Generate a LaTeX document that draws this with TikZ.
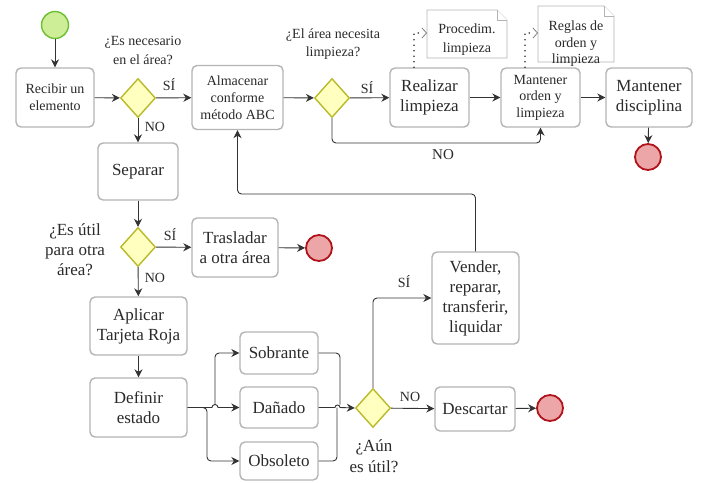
\documentclass[tikz,border=0pt]{standalone}
\usepackage{fontspec}
\setmainfont{Liberation Serif}
\usetikzlibrary{shapes.geometric,arrows.meta}
\definecolor{boxgray}{HTML}{B4B4B4}
\definecolor{txt}{HTML}{2A2A2A}
\definecolor{linec}{HTML}{333333}
\definecolor{dfill}{HTML}{FFFFC0}
\definecolor{dline}{HTML}{B9B92A}
\definecolor{sfill}{HTML}{CDEE96}
\definecolor{sline}{HTML}{6DBE35}
\definecolor{efill}{HTML}{EDA6A8}
\definecolor{eline}{HTML}{B0141A}
\tikzset{
  box/.style={draw=boxgray, line width=1.4pt, rounded corners=5pt, fill=white, align=center, text=txt, inner sep=1pt},
  fa/.style={font=\fontsize{14}{17}\selectfont},
  fb/.style={font=\fontsize{17}{20}\selectfont},
  dia/.style={shape=diamond, draw=dline, fill=dfill, line width=1.4pt, minimum width=35pt, minimum height=39pt, inner sep=0pt},
  startc/.style={circle, draw=sline, fill=sfill, line width=1.4pt, minimum size=27pt, inner sep=0pt},
  endc/.style={circle, draw=eline, fill=efill, line width=1.8pt, minimum size=26pt, inner sep=0pt},
  conn/.style={draw=linec, line width=0.9pt, rounded corners=4pt, -{Stealth[length=8pt,width=8pt]}},
  plain/.style={draw=linec, line width=0.9pt, rounded corners=4pt},
  lbl/.style={text=txt, align=center, inner sep=0pt},
  notebox/.style={draw=boxgray, line width=0.8pt, fill=white},
  dots/.style={draw=linec, line width=1.8pt, dash pattern=on 0pt off 5.5pt, line cap=round},
  barb/.style={draw=gray, line width=0.8pt}
}
\begin{document}
\begin{tikzpicture}[x=1pt,y=-1pt]
\useasboundingbox (0,0) rectangle (701,482);
% notes
\draw[notebox] (427,10) -- (497,10) -- (507,20) -- (507,58) -- (427,58) -- cycle;
\draw[notebox] (497,10) -- (497,20) -- (507,20);
\node[lbl, font=\fontsize{14}{19}\selectfont] (procnote) at (467,40) {Procedim.\\limpieza};
\draw[notebox] (538,6) -- (604,6) -- (614,16) -- (614,62) -- (538,62) -- cycle;
\draw[notebox] (604,6) -- (604,16) -- (614,16);
\node[lbl, font=\fontsize{14}{16.5}\selectfont] (reglnote) at (576,44) {Reglas de\\orden y\\limpieza};
% start / end
\node[startc] (start) at (55,25) {};
\node[endc] (end1) at (648,157) {};
\node[endc] (end2) at (319,248) {};
\node[endc] (end3) at (550,408) {};
% boxes
\node[box, fa, minimum width=78pt, minimum height=59pt] (recibir) at (55,97.5) {Recibir un\\elemento};
\node[box, fa, minimum width=91pt, minimum height=64pt] (almacenar) at (237.5,97.5) {Almacenar\\conforme\\método ABC};
\node[box, fb, minimum width=79pt, minimum height=59pt] (realizar) at (429.5,97.5) {Realizar\\limpieza};
\node[box, font=\fontsize{14}{16.5}\selectfont, minimum width=79pt, minimum height=59pt] (mantorden) at (540.5,97.5) {Mantener\\orden y\\limpieza};
\node[box, fb, minimum width=86pt, minimum height=59pt] (disciplina) at (649,97.5) {Mantener\\disciplina};
\node[box, fb, minimum width=80pt, minimum height=57pt] (separar) at (138,171.5) {Separar};
\node[box, fb, minimum width=86pt, minimum height=59pt] (trasladar) at (235,247.5) {Trasladar\\a otra área};
\node[box, fb, minimum width=97pt, minimum height=58pt] (aplicar) at (138.5,326) {Aplicar\\Tarjeta Roja};
\node[box, fb, minimum width=97pt, minimum height=59pt] (definir) at (138.5,407.5) {Definir\\estado};
\node[box, fb, minimum width=78pt, minimum height=42pt] (sobrante) at (279,353) {Sobrante};
\node[box, fb, minimum width=78pt, minimum height=41pt] (danado) at (279,407.5) {Dañado};
\node[box, fb, minimum width=78pt, minimum height=38pt] (obsoleto) at (279,461) {Obsoleto};
\node[box, fb, minimum width=87pt, minimum height=92pt] (vender) at (475.5,298) {Vender,\\reparar,\\transferir,\\liquidar};
\node[box, fb, minimum width=80pt, minimum height=44pt] (descartar) at (475,409) {Descartar};
% diamonds
\node[dia] (d1) at (138,98) {};
\node[dia] (d2) at (332,98) {};
\node[dia] (d3) at (138,247) {};
\node[dia] (d4) at (373,408) {};
% question labels
\node[lbl, font=\fontsize{14}{19}\selectfont] (q1) at (143,50) {¿Es necesario\\en el área?};
\node[lbl, font=\fontsize{14}{18}\selectfont] (q2) at (333,44) {¿El área necesita\\limpieza?};
\node[lbl, font=\fontsize{17}{20}\selectfont] (q3) at (75,250) {¿Es útil\\para otra\\área?};
\node[lbl, font=\fontsize{17}{21}\selectfont] (q4) at (374,456) {¿Aún\\es útil?};
% yes/no labels
\node[lbl, fa] (l1) at (169,85) {SÍ};
\node[lbl, fa] (l2) at (155,127) {NO};
\node[lbl, fa] (l3) at (367,88) {SÍ};
\node[lbl, font=\fontsize{15}{17}\selectfont] (l4) at (443,155) {NO};
\node[lbl, fa] (l5) at (170,235) {SÍ};
\node[lbl, fa] (l6) at (155,278) {NO};
\node[lbl, fa] (l7) at (404,282) {SÍ};
\node[lbl, fa] (l8) at (410,397) {NO};
% connectors
\draw[conn] (start) -- (recibir);
\draw[conn] (recibir) -- (d1);
\draw[conn] (d1) -- (almacenar);
\draw[conn] (d1) -- (separar);
\draw[conn] (almacenar) -- (d2);
\draw[conn] (d2) -- (realizar);
\draw[conn] (realizar) -- (mantorden);
\draw[conn] (mantorden) -- (disciplina);
\draw[conn] (disciplina) -- (end1);
\draw[conn] (d2.south) -- (332,143) -- (540.5,143) -- (mantorden.south);
\draw[conn] (vender.north) -- (475.5,194) -- (237.5,194) -- (almacenar.south);
\draw[conn] (separar) -- (d3);
\draw[conn] (d3) -- (trasladar);
\draw[conn] (trasladar) -- (end2);
\draw[conn] (d3) -- (aplicar);
\draw[conn] (aplicar) -- (definir);
% branching
\draw[conn, rounded corners=0pt] (definir.east) -- (212,407.5) arc[start angle=180, end angle=360, radius=3] -- (danado.west);
\coordinate (hopA) at (215,404.5);
\draw[conn] (hopA) -- (215,353) -- (sobrante.west);
\draw[conn] (definir.east) -- (207,407.5) -- (207,461) -- (obsoleto.west);
\draw[plain] (sobrante.east) -- (340,353) -- (340,404.5);
\draw[plain] (obsoleto.east) -- (337,461) -- (337,407.5);
\draw[conn, rounded corners=0pt] (danado.east) -- (335,407.5) arc[start angle=180, end angle=360, radius=2.5] -- (d4.west);
\draw[conn] (d4.north) -- (373,298) -- (vender.west);
\draw[conn] (d4) -- (descartar);
\draw[conn] (descartar) -- (end3);
% dotted associations
\coordinate (tip1) at (427,33);
\coordinate (tip2) at (538,33);
\draw[dots] (realizar.north -| 414,0) -- (414,33) -- (420,33);
\draw[barb] (422,28) -- (426.5,33) -- (422,38);
\draw[dots] (mantorden.north -| 525,0) -- (525,33) -- (531,33);
\draw[barb] (533,28) -- (537.5,33) -- (533,38);
\end{tikzpicture}
\end{document}
